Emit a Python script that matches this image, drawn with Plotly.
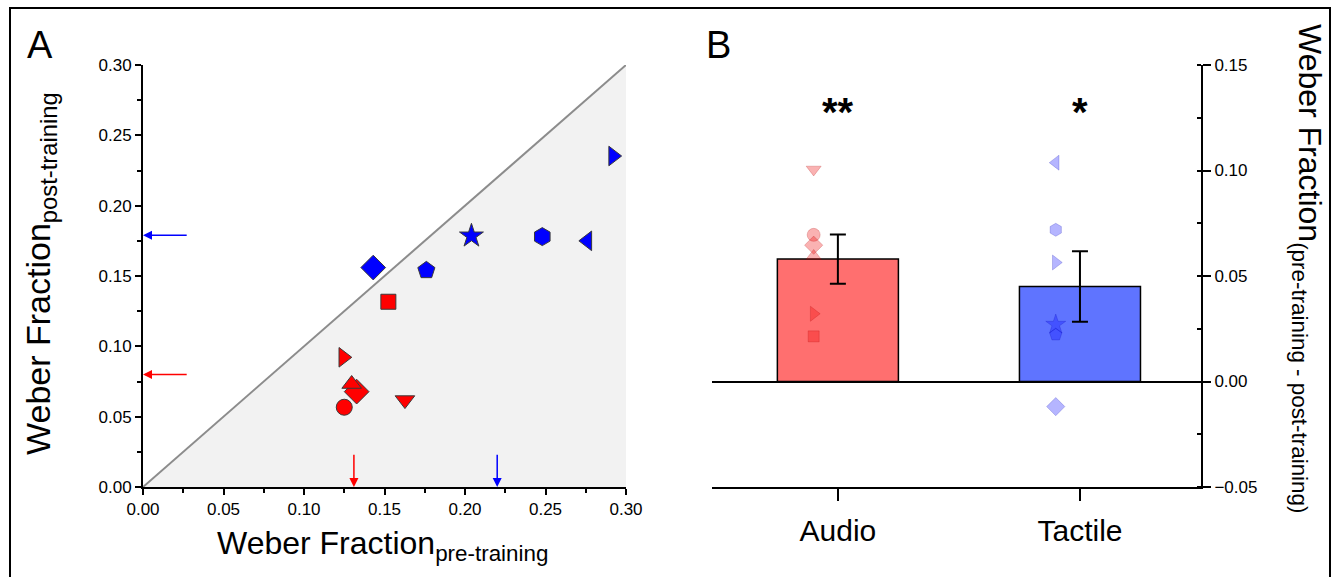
import plotly.graph_objects as go

W, H = 1335, 577
FONT = "Liberation Sans, Arial, sans-serif"

# ---------------- Panel A data ----------------
audio_symbols = ["square", "triangle-right", "diamond", "triangle-up", "triangle-down", "circle"]
audio_pre = [0.1524, 0.1244, 0.1327, 0.1296, 0.1627, 0.1250]
audio_post = [0.1317, 0.0922, 0.0678, 0.0732, 0.0618, 0.0567]

tactile_symbols = ["triangle-right", "star", "hexagon", "triangle-left", "diamond", "pentagon"]
tactile_pre = [0.292, 0.204, 0.248, 0.276, 0.143, 0.176]
tactile_post = [0.2353, 0.1785, 0.1780, 0.1750, 0.1560, 0.1540]

# group reference markers (arrows on the axes)
audio_pre_ref, audio_post_ref = 0.131, 0.080
tactile_pre_ref, tactile_post_ref = 0.220, 0.179

# ---------------- Panel B data ----------------
categories = ["Audio", "Tactile"]
bar_means = [0.058, 0.045]
bar_sems = [0.0117, 0.0167]
audio_diff_symbols = ["triangle-down", "circle", "diamond", "triangle-up", "triangle-right", "square"]
audio_diff = [0.1005, 0.0695, 0.0646, 0.0595, 0.0321, 0.0214]
tactile_diff_symbols = ["triangle-left", "hexagon", "triangle-right", "star", "pentagon", "diamond"]
tactile_diff = [0.1037, 0.0719, 0.0564, 0.0270, 0.0222, -0.0119]
significance = ["**", "*"]

A_ticks = [0.00, 0.05, 0.10, 0.15, 0.20, 0.25, 0.30]
B_yticks = [-0.05, 0.00, 0.05, 0.10, 0.15]

def px(x):
    return x / W

def py(y):
    return 1 - y / H

fig = go.Figure()

# shaded region + identity line
fig.add_trace(go.Scatter(x=[0, 0.3, 0.3, 0], y=[0, 0.3, 0, 0], fill="toself",
                         fillcolor="#F2F2F2", line=dict(width=0), mode="lines",
                         hoverinfo="skip", showlegend=False, xaxis="x", yaxis="y"))
fig.add_trace(go.Scatter(x=[0, 0.3], y=[0, 0.3], mode="lines",
                         line=dict(color="#8C8C8C", width=2), showlegend=False,
                         xaxis="x", yaxis="y"))

sizeA = {"diamond": 19, "star": 18, "circle": 16, "square": 15, "hexagon": 18, "pentagon": 18}
fig.add_trace(go.Scatter(x=audio_pre, y=audio_post, mode="markers",
                         marker=dict(symbol=audio_symbols, color="#FF0000", opacity=1,
                                     size=[sizeA.get(s, 17) for s in audio_symbols],
                                     line=dict(color="#3A3A3A", width=1)),
                         cliponaxis=False, showlegend=False, xaxis="x", yaxis="y"))
fig.add_trace(go.Scatter(x=tactile_pre, y=tactile_post, mode="markers",
                         marker=dict(symbol=tactile_symbols, color="#0000FF", opacity=1,
                                     size=[sizeA.get(s, 17) for s in tactile_symbols],
                                     line=dict(color="#3A3A3A", width=1)),
                         cliponaxis=False, showlegend=False, xaxis="x", yaxis="y"))

# ---------------- Panel B ----------------
xpos = list(range(len(categories)))
fig.add_trace(go.Bar(x=xpos, y=bar_means, width=0.5,
                     marker=dict(color=["#FF6F6F", "#5F74FF"], line=dict(color="black", width=1.5)),
                     error_y=dict(type="data", array=bar_sems, color="black", thickness=2, width=8),
                     showlegend=False, xaxis="x2", yaxis="y2"))

jit = -0.1
sizeB = {"diamond": 14, "star": 15, "circle": 13, "square": 11, "hexagon": 13, "pentagon": 13}
fig.add_trace(go.Scatter(x=[xpos[0] + jit] * len(audio_diff), y=audio_diff, mode="markers",
                         marker=dict(symbol=audio_diff_symbols, color="rgba(240,0,0,0.3)", opacity=1,
                                     size=[sizeB.get(s, 13) for s in audio_diff_symbols],
                                     line=dict(color="rgba(170,0,0,0.22)", width=1)),
                         showlegend=False, xaxis="x2", yaxis="y2"))
fig.add_trace(go.Scatter(x=[xpos[1] + jit] * len(tactile_diff), y=tactile_diff, mode="markers",
                         marker=dict(symbol=tactile_diff_symbols, color="rgba(0,0,255,0.29)", opacity=1,
                                     size=[sizeB.get(s, 13) for s in tactile_diff_symbols],
                                     line=dict(color="rgba(0,0,170,0.2)", width=1)),
                         showlegend=False, xaxis="x2", yaxis="y2"))

axis_common = dict(showline=True, linecolor="black", linewidth=2, showgrid=False,
                   zeroline=False, ticks="outside", tickcolor="black", tickwidth=2,
                   automargin=False,
                   tickfont=dict(family=FONT, size=17, color="black"))
minor_out = dict(dtick=0.025, tick0=0, ticks="outside", ticklen=4, tickwidth=2, tickcolor="black")
minor_in = dict(dtick=0.025, tick0=0, ticks="inside", ticklen=4, tickwidth=2, tickcolor="black")

fig.update_layout(
    width=W, height=H, autosize=False,
    margin=dict(l=0, r=0, t=0, b=0, pad=0, autoexpand=False),
    paper_bgcolor="white", plot_bgcolor="white",
    font=dict(family=FONT, color="black"),
    xaxis=dict(domain=[px(143), px(626)], range=[0, 0.30], anchor="y",
               tickvals=A_ticks, tickformat=".2f", ticklen=6, minor=minor_out, **axis_common),
    yaxis=dict(domain=[py(487), py(65)], range=[0, 0.30], anchor="x",
               tickvals=A_ticks, tickformat=".2f", ticklen=6, minor=minor_out, **axis_common),
    xaxis2=dict(domain=[px(712), px(1201)], range=[-0.52, 1.5], anchor="y2",
                tickvals=xpos, ticktext=categories, ticklen=12, ticklabelstandoff=4,
                **{**axis_common, "tickfont": dict(family=FONT, size=30, color="black")}),
    yaxis2=dict(domain=[py(487), py(65)], range=[-0.05, 0.15], anchor="x2", side="right",
                tickvals=B_yticks, tickformat=".2f", ticklen=8, minor=minor_in,
                **{**axis_common, "zeroline": True, "zerolinecolor": "black", "zerolinewidth": 2}),
    bargap=0.5,
)

annotations = []
# arrows on panel A axes
for (yv, col) in [(audio_post_ref, "#FF0000"), (tactile_post_ref, "#0000FF")]:
    annotations.append(dict(x=0, y=yv, ax=0.029, ay=yv, xref="x", yref="y", axref="x", ayref="y",
                            showarrow=True, arrowhead=2, arrowsize=1.2, arrowwidth=1.5,
                            arrowcolor=col, text=" "))
for (xv, col) in [(audio_pre_ref, "#FF0000"), (tactile_pre_ref, "#0000FF")]:
    annotations.append(dict(x=xv, y=0, ax=xv, ay=0.029, xref="x", yref="y", axref="x", ayref="y",
                            showarrow=True, arrowhead=2, arrowsize=1.2, arrowwidth=1.5,
                            arrowcolor=col, text=" "))
# significance
for i, s in enumerate(significance):
    annotations.append(dict(x=xpos[i], y=0.1275, xref="x2", yref="y2", text="<b>%s</b>" % s,
                            xanchor="center", yanchor="middle",
                            showarrow=False, font=dict(family=FONT, size=40, color="black")))
# panel letters
annotations.append(dict(x=px(40), y=py(45), xref="paper", yref="paper", text="A", showarrow=False,
                        xanchor="center", yanchor="middle",
                        font=dict(family=FONT, size=38, color="black")))
annotations.append(dict(x=px(718), y=py(45), xref="paper", yref="paper", text="B", showarrow=False,
                        xanchor="center", yanchor="middle",
                        font=dict(family=FONT, size=38, color="black")))
# axis titles
annotations.append(dict(x=px(382), y=py(545), xref="paper", yref="paper",
                        text="Weber Fraction<sub>pre-training</sub>", showarrow=False,
                        xanchor="center", yanchor="middle",
                        font=dict(family=FONT, size=32, color="black")))
annotations.append(dict(x=px(40), y=py(274), xref="paper", yref="paper", textangle=-90,
                        text="Weber Fraction<sub>post-training</sub>", showarrow=False,
                        xanchor="center", yanchor="middle",
                        font=dict(family=FONT, size=34, color="black")))
annotations.append(dict(x=px(1308), y=py(268), xref="paper", yref="paper", textangle=90,
                        text="Weber Fraction<sub>(pre-training - post-training)</sub>", showarrow=False,
                        xanchor="center", yanchor="middle",
                        font=dict(family=FONT, size=32, color="black")))
fig.update_layout(annotations=annotations)

# figure border (bottom edge lies below the visible page, as in the reference)
fig.add_shape(type="rect", xref="paper", yref="paper", x0=px(10), x1=px(1330), y0=py(600), y1=py(8),
              line=dict(color="black", width=2), fillcolor="rgba(0,0,0,0)", layer="above")

fig.write_html("out.html", config={"displayModeBar": False},
               post_script="document.body.style.margin='0';document.body.style.overflow='hidden';")
